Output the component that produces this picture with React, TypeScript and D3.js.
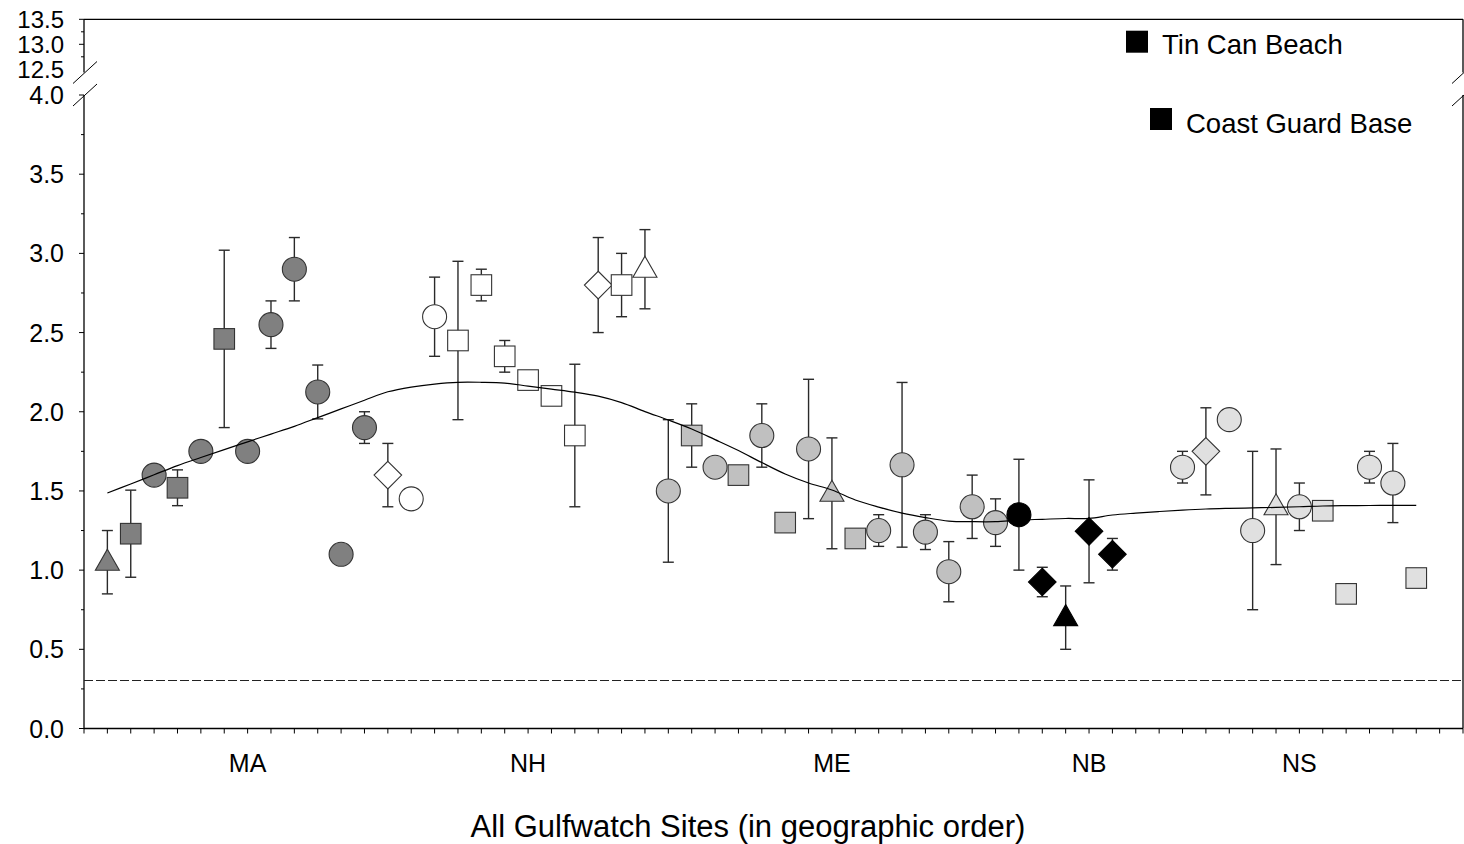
import * as d3 from 'd3';
import React, { useEffect, useRef } from 'react';

// sites in geographic order (position on the x axis)
const siteIndex = [1, 2, 3, 4, 5, 6, 7, 8, 9, 10, 11, 12, 13, 14, 15, 16, 17, 18, 19, 20, 21, 22, 23, 24,
  25, 26, 27, 28, 29, 30, 31, 32, 33, 34, 35, 36, 37, 38, 39, 40, 41, 42, 43, 44, 47, 48, 49, 50, 51, 52,
  53, 54, 55, 56, 57];
const siteValue = [1.05, 1.23, 1.6, 1.52, 1.75, 2.46, 1.75, 2.55, 2.9, 2.125, 1.1, 1.9, 1.6, 1.45,
  2.6, 2.45, 2.8, 2.35, 2.2, 2.1, 1.85, 2.8, 2.8, 2.9,
  1.5, 1.85, 1.65, 1.6, 1.85, 1.3, 1.765, 1.485, 1.2, 1.25, 1.665, 1.24, 0.99, 1.4, 1.3,
  1.35, 0.925, 0.7, 1.245, 1.1,
  1.65, 1.75, 1.95, 1.25, 1.4, 1.4, 1.375, 0.85, 1.65, 1.55, 0.95];
const siteError = [0.2, 0.275, 0, 0.113, 0, 0.56, 0, 0.15, 0.2, 0.17, 0, 0.1, 0.2, 0,
  0.25, 0.5, 0.1, 0.1, 0, 0, 0.45, 0.3, 0.2, 0.25,
  0.45, 0.2, 0, 0, 0.2, 0, 0.44, 0.35, 0, 0.1, 0.52, 0.11, 0.19, 0.2, 0.15,
  0.35, 0.093, 0.2, 0.325, 0.1,
  0.1, 0.275, 0, 0.5, 0.365, 0.15, 0, 0, 0.1, 0.25, 0];
const siteShape = ['tri', 'sq', 'c', 'sq', 'c', 'sq', 'c', 'c', 'c', 'c', 'c', 'c', 'd', 'c',
  'c', 'sq', 'sq', 'sq', 'sq', 'sq', 'sq', 'd', 'sq', 'tri',
  'c', 'sq', 'c', 'sq', 'c', 'sq', 'c', 'tri', 'sq', 'c', 'c', 'c', 'c', 'c', 'c',
  'c', 'd', 'tri', 'd', 'd',
  'c', 'd', 'c', 'c', 'tri', 'c', 'sq', 'sq', 'c', 'c', 'sq'];
const siteRegion = ['MA', 'MA', 'MA', 'MA', 'MA', 'MA', 'MA', 'MA', 'MA', 'MA', 'MA', 'MA', 'NH', 'NH',
  'NH', 'NH', 'NH', 'NH', 'NH', 'NH', 'NH', 'NH', 'NH', 'NH',
  'ME', 'ME', 'ME', 'ME', 'ME', 'ME', 'ME', 'ME', 'ME', 'ME', 'ME', 'ME', 'ME', 'ME', 'ME',
  'NB', 'NB', 'NB', 'NB', 'NB',
  'NS', 'NS', 'NS', 'NS', 'NS', 'NS', 'NS', 'NS', 'NS', 'NS', 'NS'];

// smoothed trend, one value per site position 1..57
const trendValue = [1.487, 1.544, 1.602, 1.66, 1.711, 1.761, 1.81, 1.859, 1.908, 1.963, 2.018, 2.073,
  2.126, 2.156, 2.175, 2.186, 2.186, 2.181, 2.162, 2.143, 2.124, 2.099, 2.058, 2.001, 1.948, 1.891,
  1.824, 1.755, 1.679, 1.607, 1.55, 1.506, 1.443, 1.398, 1.36, 1.332, 1.31, 1.306, 1.306, 1.316,
  1.321, 1.326, 1.327, 1.348, 1.36, 1.37, 1.379, 1.386, 1.39, 1.393, 1.396, 1.4, 1.405, 1.407,
  1.408, 1.409, 1.409];

const regionNames = ['MA', 'NH', 'ME', 'NB', 'NS'];
const regionLabelAt = [7, 19, 32, 43, 52];
const legendLabels = ['Tin Can Beach', 'Coast Guard Base'];
const lowTicks = [0, 0.5, 1.0, 1.5, 2.0, 2.5, 3.0, 3.5, 4.0];
const lowMinor = [0.25, 0.75, 1.25, 1.75, 2.25, 2.75, 3.25, 3.75];
const highTicks = [12.5, 13.0, 13.5];
const highMinor = [12.75, 13.25];
const detectionLimit = 0.3;
const siteSlots = 59;
const xTitle = 'All Gulfwatch Sites (in geographic order)';

const regionFill = { MA: '#808080', NH: '#ffffff', ME: '#c0c0c0', NB: '#000000', NS: '#e0e0e0' };
const FONT = '"Liberation Sans", Arial, sans-serif';

export default function App() {
  const ref = useRef(null);

  useEffect(() => {
    const svg = d3.select(ref.current);
    svg.selectAll('*').remove();

    const left = 84, right = 1463, top = 19.3, bottom = 728.5;
    const breakLow = 95, breakHigh = 72.5;

    const x = d3.scaleLinear().domain([0, siteSlots]).range([left, right]);
    const yLow = d3.scaleLinear().domain([0, 4]).range([bottom, breakLow]);
    const yHigh = d3.scaleLinear().domain([12.5, 13.5]).range([69.3, top]);

    const g = svg.append('g').attr('font-family', FONT);

    // frame pieces, broken between the two y segments
    const frame = g.append('g').attr('stroke', '#000').attr('stroke-width', 1.3).attr('fill', 'none');
    frame.append('line').attr('x1', left).attr('x2', right).attr('y1', top).attr('y2', top);
    frame.append('line').attr('x1', left).attr('x2', right).attr('y1', bottom).attr('y2', bottom);
    [left, right].forEach((xx) => {
      frame.append('line').attr('x1', xx).attr('x2', xx).attr('y1', top).attr('y2', breakHigh);
      frame.append('line').attr('x1', xx).attr('x2', xx).attr('y1', breakLow).attr('y2', bottom);
      [breakHigh, breakLow].forEach((yy) => {
        frame.append('line').attr('stroke-width', 1)
          .attr('x1', xx - 11).attr('y1', yy + 11).attr('x2', xx + 13).attr('y2', yy - 11);
      });
    });

    // y axis ticks and labels
    const tickG = g.append('g').attr('stroke', '#000').attr('stroke-width', 1);
    lowTicks.forEach((t) => tickG.append('line').attr('x1', left - 5).attr('x2', left).attr('y1', yLow(t)).attr('y2', yLow(t)));
    lowMinor.forEach((t) => tickG.append('line').attr('x1', left - 3).attr('x2', left).attr('y1', yLow(t)).attr('y2', yLow(t)));
    highTicks.slice(1).forEach((t) => tickG.append('line').attr('x1', left - 5).attr('x2', left).attr('y1', yHigh(t)).attr('y2', yHigh(t)));
    highMinor.forEach((t) => tickG.append('line').attr('x1', left - 3).attr('x2', left).attr('y1', yHigh(t)).attr('y2', yHigh(t)));

    const fmt = d3.format('.1f');
    const labelG = g.append('g').attr('text-anchor', 'end').attr('fill', '#000');
    lowTicks.forEach((t) => labelG.append('text').attr('x', 64).attr('y', yLow(t)).attr('dy', '0.36em')
      .attr('font-size', 25).text(fmt(t)));
    highTicks.forEach((t) => labelG.append('text').attr('x', 64).attr('y', yHigh(t)).attr('dy', '0.36em')
      .attr('font-size', 24).text(fmt(t)));

    // x axis ticks
    d3.range(0, siteSlots + 1).forEach((k) => {
      tickG.append('line').attr('x1', x(k)).attr('x2', x(k)).attr('y1', bottom).attr('y2', bottom + 5);
    });

    regionNames.forEach((r, i) => {
      g.append('text').attr('x', x(regionLabelAt[i])).attr('y', 772)
        .attr('text-anchor', 'middle').attr('font-size', 25).text(r);
    });

    g.append('text').attr('x', 748).attr('y', 837).attr('text-anchor', 'middle')
      .attr('font-size', 31).text(xTitle);

    // detection limit
    g.append('line').attr('x1', left).attr('x2', right)
      .attr('y1', yLow(detectionLimit)).attr('y2', yLow(detectionLimit))
      .attr('shape-rendering', 'crispEdges')
      .attr('stroke', '#222').attr('stroke-width', 1).attr('stroke-dasharray', '9,3');

    // error bars
    const errG = g.append('g').attr('stroke', '#2a2a2a').attr('stroke-width', 1.4);
    siteIndex.forEach((k, i) => {
      const e = siteError[i];
      if (!e) return;
      const cx = x(k);
      const y1 = yLow(siteValue[i] + e), y2 = yLow(siteValue[i] - e);
      errG.append('line').attr('x1', cx).attr('x2', cx).attr('y1', y1).attr('y2', y2);
      errG.append('line').attr('x1', cx - 5.5).attr('x2', cx + 5.5).attr('y1', y1).attr('y2', y1);
      errG.append('line').attr('x1', cx - 5.5).attr('x2', cx + 5.5).attr('y1', y2).attr('y2', y2);
    });

    // markers
    const markG = g.append('g');
    siteIndex.forEach((k, i) => {
      const cx = x(k), cy = yLow(siteValue[i]);
      const fill = regionFill[siteRegion[i]];
      const stroke = siteRegion[i] === 'NB' ? '#000' : '#333';
      const shape = siteShape[i];
      let el;
      if (shape === 'c') {
        el = markG.append('circle').attr('cx', cx).attr('cy', cy).attr('r', 12);
      } else if (shape === 'sq') {
        el = markG.append('rect').attr('x', cx - 10.3).attr('y', cy - 10.3).attr('width', 20.6).attr('height', 20.6);
      } else if (shape === 'd') {
        el = markG.append('polygon').attr('points',
          [[cx, cy - 13.8], [cx + 13.8, cy], [cx, cy + 13.8], [cx - 13.8, cy]].map((p) => p.join(',')).join(' '));
      } else {
        el = markG.append('polygon').attr('points',
          [[cx, cy - 13], [cx + 12, cy + 8], [cx - 12, cy + 8]].map((p) => p.join(',')).join(' '));
      }
      el.attr('fill', fill).attr('stroke', stroke).attr('stroke-width', 1.1);
    });

    // trend line on top of the markers
    const line = d3.line()
      .x((d, i) => x(i + 1))
      .y((d) => yLow(d))
      .curve(d3.curveCatmullRom);
    g.append('path').datum(trendValue).attr('d', line)
      .attr('fill', 'none').attr('stroke', '#000').attr('stroke-width', 1.2);

    // legend
    legendLabels.forEach((lab, i) => {
      const lx = 1126 + i * 24, ly = 30.7 + i * 77.3;
      g.append('rect').attr('x', lx).attr('y', ly).attr('width', 22).attr('height', 22).attr('fill', '#000');
      g.append('text').attr('x', lx + 36).attr('y', ly + 22.8 + i * 2.5).attr('font-size', 27.5).text(lab);
    });
  }, []);

  return (
    <div style={{ position: 'absolute', left: 0, top: 0 }}>
      <svg ref={ref} width={1464} height={844} style={{ display: 'block', background: '#fff' }} />
    </div>
  );
}
